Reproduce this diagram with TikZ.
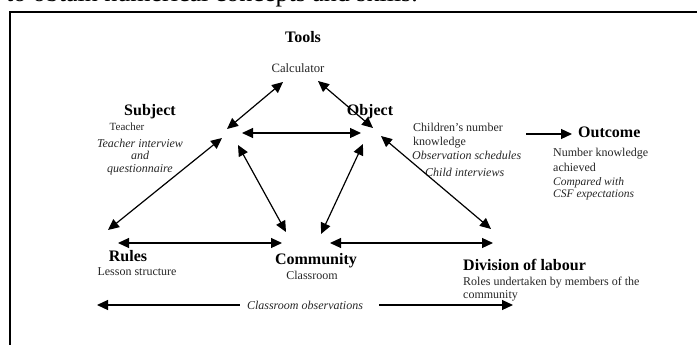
\documentclass[tikz,border=0pt]{standalone}
\usepackage{fontspec}
\setmainfont{Liberation Serif}
\usetikzlibrary{arrows.meta}

\tikzset{
  link/.style={draw, line width=1.2pt, {Triangle[length=11pt,width=10pt]}-{Triangle[length=11pt,width=10pt]}},
  oneway/.style={draw, line width=1.2pt, -{Triangle[length=11pt,width=10pt]}},
  title/.style={inner sep=0pt, font=\fontsize{16}{18}\selectfont\bfseries},
  body/.style={inner sep=0pt, text=black!85, font=\fontsize{12}{14}\selectfont},
  note/.style={inner sep=0pt, text=black!85, font=\fontsize{12}{12.5}\selectfont\itshape},
}

\begin{document}
\begin{tikzpicture}[x=1pt,y=-1pt]
\useasboundingbox (0,0) rectangle (697,345);
%\draw [lightgray](0,0) grid (697,345);

\begin{scope}
\clip (0,0) rectangle (697,345);
\node [anchor=base east, inner sep=0pt, font=\fontsize{26}{28}\selectfont] (pagetxt) at (418,1.5) {to obtain numerical concepts and skills.};
\end{scope}
\draw [line width=2.5pt] (10,345) -- (10,12) -- (700,12); % frame

% vertices
\node [title] (tools) at (303,37) {Tools};
\node [body, font=\fontsize{12.7}{14}\selectfont] (calc) at (298,68) {Calculator};
\node [title] (subj) at (150,112) {Subject};
\node [body, font=\fontsize{11}{13}\selectfont] (teach) at (127,127) {Teacher};
\node [note, align=center] (tint) at (140,157) {Teacher interview\\and\\questionnaire};
\node [title] (obj) at (370,112) {Object};
\node [body, anchor=west, align=left] (ctxt) at (413,136) {Children's number\\knowledge};
\node [note, anchor=west] (osch) at (412,155) {Observation schedules};
\node [note, anchor=west] (cint) at (425,172) {Child interviews};
\node [title, anchor=west] (outc) at (578,132) {Outcome};
\node [body, anchor=west, align=left, font=\fontsize{12}{15}\selectfont] (otxt) at (553,159.5) {Number knowledge\\achieved};
\node [note, anchor=west, align=left, font=\fontsize{11.5}{12}\selectfont\itshape] (csf) at (553,189) {Compared with\\CSF expectations};
\node [title] (rules) at (128,256) {Rules};
\node [body] (less) at (137,272) {Lesson structure};
\node [title] (comm) at (316,261) {Community};
\node [body] (clsrm) at (312,275) {Classroom};
\node [title, anchor=west] (div) at (463,265) {Division of labour};
\node [body, anchor=west, align=left, font=\fontsize{12}{13}\selectfont] (roles) at (463,289.5) {Roles undertaken by members of the\\community};
\node [note] (cobs) at (305,305) {Classroom observations};

% arrow ends
\coordinate (s-t) at (227,129); \coordinate (t-s) at (283,82);
\coordinate (t-o) at (318,81);  \coordinate (o-t) at (373,128);
\coordinate (s-o) at (242,133); \coordinate (o-s) at (361,133);
\coordinate (s-r) at (222,138); \coordinate (r-s) at (108,230);
\coordinate (s-c) at (238,145); \coordinate (c-s) at (286,232);
\coordinate (o-c) at (363,144); \coordinate (c-o) at (321,234);
\coordinate (o-d) at (381,136); \coordinate (d-o) at (491,229);
\coordinate (r-c) at (118,243); \coordinate (c-r) at (282,243);
\coordinate (c-d) at (330,243); \coordinate (d-c) at (493,243);
\coordinate (c-out) at (526,134); \coordinate (out-c) at (572,134);
\coordinate (obs-l) at (97,305); \coordinate (obs-r) at (513,305);

\draw [link] (s-t) -- (t-s);
\draw [link] (t-o) -- (o-t);
\draw [link] (s-o) -- (o-s);
\draw [link] (s-r) -- (r-s);
\draw [link] (s-c) -- (c-s);
\draw [link] (o-c) -- (c-o);
\draw [link] (o-d) -- (d-o);
\draw [link] (r-c) -- (c-r);
\draw [link] (c-d) -- (d-c);
\draw [oneway] (c-out) -- (out-c);
\draw [oneway, shorten <=7pt] (cobs.west) -- (obs-l);
\draw [oneway, shorten <=16pt] (cobs.east) -- (obs-r);

\end{tikzpicture}
\end{document}
